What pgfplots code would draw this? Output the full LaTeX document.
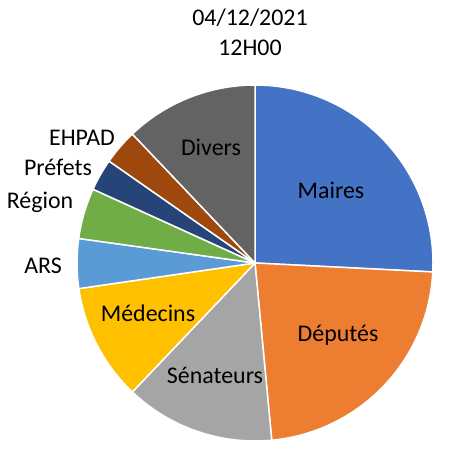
\documentclass[border=0pt]{standalone}
\usepackage{pgfplots}
\pgfplotsset{compat=1.18}
\usepackage{pgfplotstable}
\usepackage{fontspec}
\setmainfont{Carlito}
\definecolor{cMaires}{HTML}{4472C4}
\definecolor{cDeputes}{HTML}{ED7D31}
\definecolor{cSenateurs}{HTML}{A5A5A5}
\definecolor{cMedecins}{HTML}{FFC000}
\definecolor{cARS}{HTML}{5B9BD5}
\definecolor{cRegion}{HTML}{70AD47}
\definecolor{cPrefets}{HTML}{264478}
\definecolor{cEHPAD}{HTML}{9E480E}
\definecolor{cDivers}{HTML}{636363}
\pgfplotstableread[col sep=comma]{
name,value,color,lx,ly
Maires,25.8,cMaires,331,190
Députés,22.7,cDeputes,338,335
Sénateurs,13.6,cSenateurs,215,375
Médecins,10.6,cMedecins,148,313
ARS,4.5,cARS,43,266
Région,4.6,cRegion,40,202
Préfets,2.9,cPrefets,58,167
EHPAD,3.2,cEHPAD,82,138
Divers,12.1,cDivers,211,147
}\piedata
\begin{document}
\begin{tikzpicture}
\begin{axis}[x=1bp,y=1bp,xmin=0,xmax=457,ymin=0,ymax=454,hide axis,clip=false,scale only axis]
\path (axis cs:0,0) rectangle (axis cs:457,454);
\pgfplotstablegetrowsof{\piedata}
\pgfmathtruncatemacro{\N}{\pgfplotsretval-1}
\def\cum{0}
\pgfplotsforeachungrouped \i in {0,...,\N}{%
  \pgfplotstablegetelem{\i}{value}\of{\piedata}\let\val\pgfplotsretval
  \pgfplotstablegetelem{\i}{color}\of{\piedata}\let\col\pgfplotsretval
  \pgfmathsetmacro{\aone}{90-\cum*3.6}%
  \pgfmathsetmacro{\atwo}{90-(\cum+\val)*3.6}%
  \pgfmathsetmacro{\cum}{\cum+\val}%
  \edef\temp{\noexpand\filldraw[fill=\col,draw=white,line width=1.5bp,line join=round] (axis cs:255,191) -- ++(\aone:178bp) arc[start angle=\aone,end angle=\atwo,radius=178bp] -- cycle;}%
  \temp
}
\pgfplotsforeachungrouped \i in {0,...,\N}{%
  \pgfplotstablegetelem{\i}{name}\of{\piedata}\let\nm\pgfplotsretval
  \pgfplotstablegetelem{\i}{lx}\of{\piedata}\let\lx\pgfplotsretval
  \pgfplotstablegetelem{\i}{ly}\of{\piedata}\let\ly\pgfplotsretval
  \pgfmathsetmacro{\lyy}{454-\ly}%
  \edef\temp{\noexpand\node[font=\noexpand\fontsize{24}{29}\noexpand\selectfont,text=black,inner sep=0pt] at (axis cs:\lx,\lyy) {\nm};}%
  \temp
}
\node[font=\fontsize{24}{29}\selectfont,inner sep=0pt] at (axis cs:250,436) {04/12/2021};
\node[font=\fontsize{24}{29}\selectfont,inner sep=0pt] at (axis cs:250,406) {12H00};
\end{axis}
\end{tikzpicture}
\end{document}
